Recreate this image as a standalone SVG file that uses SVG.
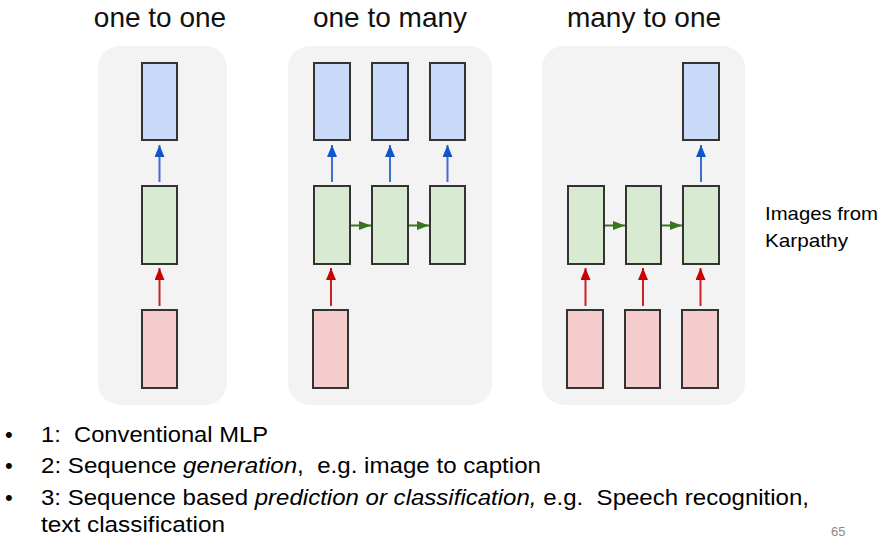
<svg xmlns="http://www.w3.org/2000/svg" width="890" height="546" viewBox="0 0 890 546">
<style>
.title{font-family:"Liberation Sans",Arial,sans-serif;font-size:28px;fill:#111;text-anchor:middle}
.body{font-family:"Liberation Sans",Arial,sans-serif;font-size:22px;fill:#000;white-space:pre}
.note{font-family:"Liberation Sans",Arial,sans-serif;font-size:19px;fill:#000}
.panel{fill:#f3f3f3}
.out{fill:#c9daf8;stroke:#333;stroke-width:2}
.hid{fill:#d9ead3;stroke:#333;stroke-width:2}
.inp{fill:#f4cccc;stroke:#333;stroke-width:2}
.ab{stroke:#3c6fd0;stroke-width:2;fill:none;marker-end:url(#mb)}
.ar{stroke:#cc2222;stroke-width:2;fill:none;marker-end:url(#mr)}
.ag{stroke:#38761d;stroke-width:2;fill:none;marker-end:url(#mg)}
</style>
<defs>
<marker id="mb" viewBox="0 0 12 10" refX="12" refY="5" markerWidth="12" markerHeight="10" markerUnits="userSpaceOnUse" orient="auto"><path d="M0,0 L12,5 L0,10 z" fill="#1155cc"/></marker>
<marker id="mr" viewBox="0 0 12 10" refX="12" refY="5" markerWidth="12" markerHeight="10" markerUnits="userSpaceOnUse" orient="auto"><path d="M0,0 L12,5 L0,10 z" fill="#cc0000"/></marker>
<marker id="mg" viewBox="0 0 12 9" refX="12" refY="4.5" markerWidth="12" markerHeight="9" markerUnits="userSpaceOnUse" orient="auto"><path d="M0,0 L12,4.5 L0,9 z" fill="#38761d"/></marker>
</defs>
<rect width="890" height="546" fill="#fff"/>

<text class="title" x="160" y="27">one to one</text>
<text class="title" x="390" y="27">one to many</text>
<text class="title" x="644" y="27">many to one</text>

<rect class="panel" x="98" y="46" width="129" height="359" rx="22"/>
<rect class="panel" x="288" y="46" width="204" height="359" rx="22"/>
<rect class="panel" x="542" y="46" width="203" height="359" rx="22"/>

<g id="p1-out"><rect class="out" x="142" y="63" width="35" height="77"/></g>
<g id="p1-hid"><rect class="hid" x="142" y="186" width="35" height="78"/></g>
<g id="p1-in"><rect class="inp" x="142" y="310" width="35" height="78"/></g>

<g id="p2-out1"><rect class="out" x="314" y="63" width="36" height="77"/></g>
<g id="p2-out2"><rect class="out" x="372" y="63" width="36" height="77"/></g>
<g id="p2-out3"><rect class="out" x="430" y="63" width="35" height="77"/></g>
<g id="p2-hid1"><rect class="hid" x="314" y="186" width="36" height="78"/></g>
<g id="p2-hid2"><rect class="hid" x="372" y="186" width="36" height="78"/></g>
<g id="p2-hid3"><rect class="hid" x="430" y="186" width="35" height="78"/></g>
<g id="p2-in1"><rect class="inp" x="313" y="310" width="35" height="78"/></g>

<g id="p3-out"><rect class="out" x="683" y="63" width="36" height="77"/></g>
<g id="p3-hid1"><rect class="hid" x="568" y="186" width="36" height="78"/></g>
<g id="p3-hid2"><rect class="hid" x="626" y="186" width="35" height="78"/></g>
<g id="p3-hid3"><rect class="hid" x="683" y="186" width="36" height="78"/></g>
<g id="p3-in1"><rect class="inp" x="567" y="310" width="36" height="78"/></g>
<g id="p3-in2"><rect class="inp" x="625" y="310" width="35" height="78"/></g>
<g id="p3-in3"><rect class="inp" x="682" y="310" width="36" height="78"/></g>

<g id="connectors">
<line class="ab" x1="159.5" y1="182" x2="159.5" y2="145"/>
<line class="ar" x1="159.5" y1="306" x2="159.5" y2="268"/>

<line class="ab" x1="332" y1="182" x2="332" y2="145"/>
<line class="ab" x1="390" y1="182" x2="390" y2="145"/>
<line class="ab" x1="447.5" y1="182" x2="447.5" y2="145"/>
<line class="ag" x1="351" y1="225.5" x2="371" y2="225.5"/>
<line class="ag" x1="409" y1="225.5" x2="429" y2="225.5"/>
<line class="ar" x1="331" y1="306" x2="331" y2="268"/>

<line class="ab" x1="701" y1="182" x2="701" y2="145"/>
<line class="ag" x1="605" y1="225.5" x2="625" y2="225.5"/>
<line class="ag" x1="662" y1="225.5" x2="682" y2="225.5"/>
<line class="ar" x1="585.5" y1="306" x2="585.5" y2="268"/>
<line class="ar" x1="643" y1="306" x2="643" y2="268"/>
<line class="ar" x1="700.5" y1="306" x2="700.5" y2="268"/>
</g>

<text class="note" x="765" y="220" textLength="113" lengthAdjust="spacingAndGlyphs">Images from</text>
<text class="note" x="765" y="247" textLength="83" lengthAdjust="spacingAndGlyphs">Karpathy</text>

<text class="body" x="5" y="442">•</text>
<text class="body" x="5" y="473">•</text>
<text class="body" x="5" y="505">•</text>
<text class="body" x="41" y="442" textLength="227" lengthAdjust="spacingAndGlyphs" xml:space="preserve">1:  Conventional MLP</text>
<text class="body" x="41" y="473" textLength="500" lengthAdjust="spacingAndGlyphs" xml:space="preserve">2: Sequence <tspan font-style="italic">generation</tspan>,  e.g. image to caption</text>
<text class="body" x="41" y="505" textLength="768" lengthAdjust="spacingAndGlyphs" xml:space="preserve">3: Sequence based <tspan font-style="italic">prediction or classification,</tspan> e.g.  Speech recognition,</text>
<text class="body" x="41" y="532" textLength="184" lengthAdjust="spacingAndGlyphs">text classification</text>
<text x="831" y="536" font-family="Liberation Sans,Arial,sans-serif" font-size="13" fill="#8a8a8a">65</text>
</svg>
